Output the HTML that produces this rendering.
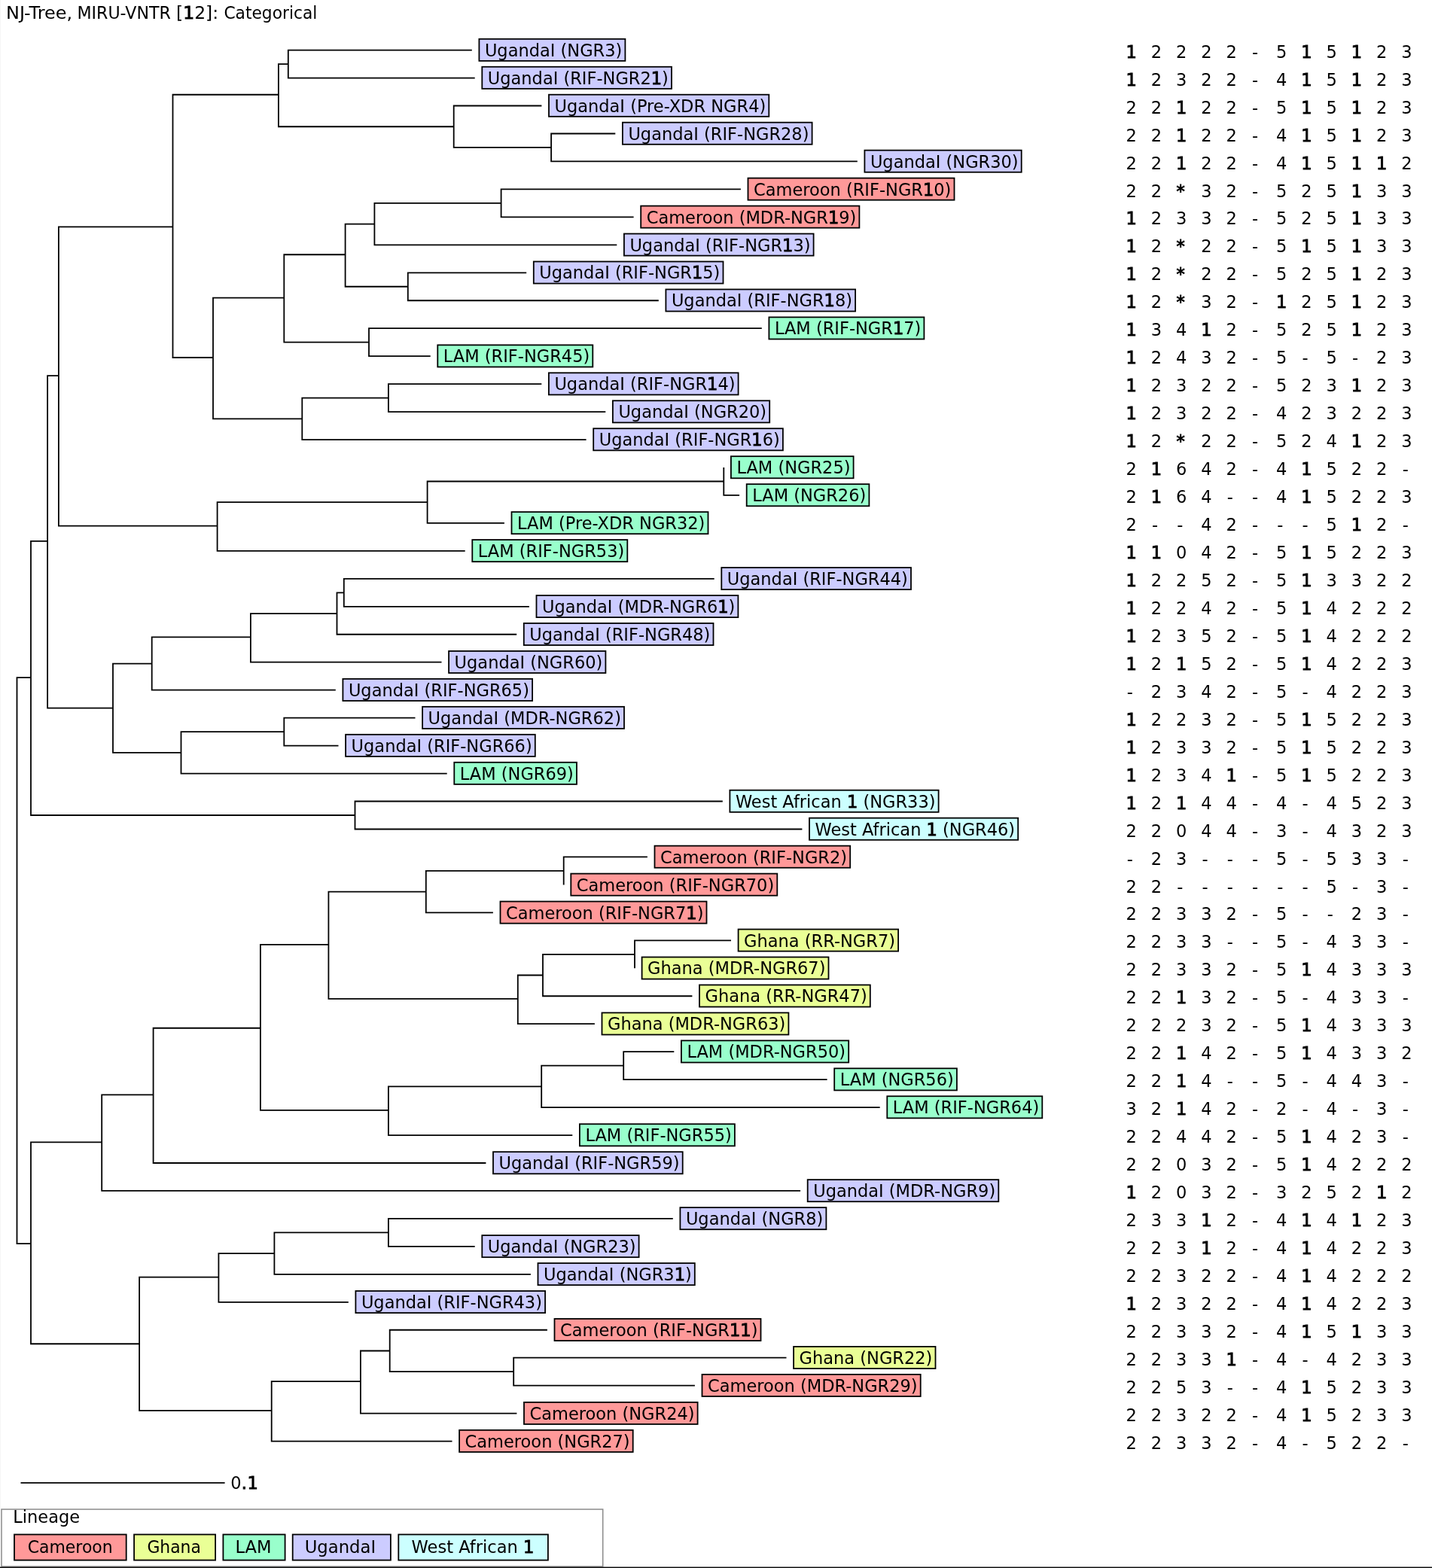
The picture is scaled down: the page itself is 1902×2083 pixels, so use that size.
<!DOCTYPE html><html><head><meta charset="utf-8"><title>NJ-Tree, MIRU-VNTR [12]: Categorical</title><style>
html,body{margin:0;padding:0;background:#fff;}svg{display:block}
text{font-family:"DejaVu Sans", "Liberation Sans", sans-serif;font-size:22.5px;fill:#000}
.b{stroke:#000;stroke-width:0.9px}
.t{fill:none;stroke:#000;stroke-width:1.8;stroke-linejoin:miter;stroke-linecap:butt}
.bx{stroke:#000;stroke-width:1.8}
</style></head><body>
<svg width="1902" height="2083" viewBox="0 0 1902 2083">
<rect x="0" y="0" width="1902" height="2083" fill="#fff"/>
<line x1="0.5" y1="0" x2="0.5" y2="2004" stroke="#f6f6f6" stroke-width="1"/>
<text x="8.0" y="24.8" textLength="88.0" lengthAdjust="spacingAndGlyphs">NJ-Tree,</text>
<text x="102.4" y="24.8" textLength="124.5" lengthAdjust="spacingAndGlyphs">MIRU-VNTR</text>
<text x="234.1" y="24.8" textLength="56.1" lengthAdjust="spacingAndGlyphs">[<tspan class="b">1</tspan>2]:</text>
<text x="297.4" y="24.8" textLength="124.0" lengthAdjust="spacingAndGlyphs">Categorical</text>
<path class="t" d="M626.8 66.60H382.8V103.56H630.7M817.3 177.48H732.1V214.44H1138.8M719.4 140.52H602.7V195.96H732.1M382.8 85.08H369.9V168.24H602.7M983.9 251.40H665.6V288.36H841.6M665.6 269.88H497.4V325.32H819.3M699.2 362.28H541.8V399.24H874.8M497.4 297.60H458.6V380.76H541.8M1011.8 436.20H490.0V473.16H571.7M458.6 338.26H377.3V454.68H490.0M719.3 510.12H515.9V547.08H804.3M515.9 528.60H401.3V584.04H778.6M377.3 395.54H283.0V556.32H401.3M369.9 125.74H229.5V475.01H283.0M961.3 621.00H961.3V657.96H982.1M961.3 639.48H567.6V694.92H669.9M567.6 667.20H288.6V731.88H617.7M229.5 301.30H77.9V698.62H288.6M948.7 768.84H456.8V805.80H702.9M456.8 787.32H447.5V842.76H686.2M447.5 815.04H332.9V879.72H586.5M332.9 846.46H201.7V916.68H445.8M551.5 953.64H377.3V990.60H449.5M377.3 972.12H240.5V1027.56H593.7M201.7 881.57H150.0V999.84H240.5M77.9 499.03H63.1V940.70H150.0M959.8 1064.52H471.5V1101.48H1065.4M63.1 718.94H41.0V1083.00H471.5M859.9 1138.44H748.7V1175.40H748.7M748.7 1156.92H565.8V1212.36H654.9M971.0 1249.32H843.0V1286.28H843.0M843.0 1267.80H721.0V1323.24H919.4M721.0 1295.52H687.8V1360.20H789.9M565.8 1184.64H436.4V1326.94H687.8M895.3 1397.16H828.2V1434.12H1098.6M828.2 1415.64H719.2V1471.08H1168.7M719.2 1443.36H515.9V1508.04H760.3M436.4 1254.86H345.9V1474.78H515.9M345.9 1365.74H203.6V1545.00H645.4M203.6 1454.45H135.2V1581.96H1063.1M893.8 1618.92H515.9V1655.88H630.7M515.9 1637.40H364.4V1692.84H704.9M364.4 1665.12H290.4V1729.80H462.8M1044.5 1803.72H682.2V1840.68H922.9M726.9 1766.76H517.7V1822.20H682.2M517.7 1794.48H478.9V1877.64H686.4M478.9 1835.14H360.7V1914.60H600.5M290.4 1696.54H185.1V1873.94H360.7M135.2 1517.28H41.0V1785.24H185.1M41.0 900.05H22.5V1652.18H41.0"/>
<rect class="bx" x="636.4" y="51.80" width="194.0" height="29.1" fill="#ccccff"/>
<text x="643.9" y="74.80">UgandaI (NGR3)</text>
<rect class="bx" x="640.3" y="88.76" width="251.7" height="29.1" fill="#ccccff"/>
<text x="647.8" y="111.76">UgandaI (RIF-NGR2<tspan class="b">1</tspan>)</text>
<rect class="bx" x="729.0" y="125.72" width="292.3" height="29.1" fill="#ccccff"/>
<text x="736.5" y="148.72">UgandaI (Pre-XDR NGR4)</text>
<rect class="bx" x="826.9" y="162.68" width="251.7" height="29.1" fill="#ccccff"/>
<text x="834.4" y="185.68">UgandaI (RIF-NGR28)</text>
<rect class="bx" x="1148.4" y="199.64" width="208.3" height="29.1" fill="#ccccff"/>
<text x="1155.9" y="222.64">UgandaI (NGR30)</text>
<rect class="bx" x="993.5" y="236.60" width="274.0" height="29.1" fill="#ff9999"/>
<text x="1001.0" y="259.60">Cameroon (RIF-NGR<tspan class="b">1</tspan>0)</text>
<rect class="bx" x="851.2" y="273.56" width="290.2" height="29.1" fill="#ff9999"/>
<text x="858.7" y="296.56">Cameroon (MDR-NGR<tspan class="b">1</tspan>9)</text>
<rect class="bx" x="828.9" y="310.52" width="251.7" height="29.1" fill="#ccccff"/>
<text x="836.4" y="333.52">UgandaI (RIF-NGR<tspan class="b">1</tspan>3)</text>
<rect class="bx" x="708.8" y="347.48" width="251.7" height="29.1" fill="#ccccff"/>
<text x="716.3" y="370.48">UgandaI (RIF-NGR<tspan class="b">1</tspan>5)</text>
<rect class="bx" x="884.4" y="384.44" width="251.7" height="29.1" fill="#ccccff"/>
<text x="891.9" y="407.44">UgandaI (RIF-NGR<tspan class="b">1</tspan>8)</text>
<rect class="bx" x="1021.4" y="421.40" width="206.0" height="29.1" fill="#99ffcc"/>
<text x="1028.9" y="444.40">LAM (RIF-NGR<tspan class="b">1</tspan>7)</text>
<rect class="bx" x="581.3" y="458.36" width="206.0" height="29.1" fill="#99ffcc"/>
<text x="588.8" y="481.36">LAM (RIF-NGR45)</text>
<rect class="bx" x="728.9" y="495.32" width="251.7" height="29.1" fill="#ccccff"/>
<text x="736.4" y="518.32">UgandaI (RIF-NGR<tspan class="b">1</tspan>4)</text>
<rect class="bx" x="813.9" y="532.28" width="208.3" height="29.1" fill="#ccccff"/>
<text x="821.4" y="555.28">UgandaI (NGR20)</text>
<rect class="bx" x="788.2" y="569.24" width="251.7" height="29.1" fill="#ccccff"/>
<text x="795.7" y="592.24">UgandaI (RIF-NGR<tspan class="b">1</tspan>6)</text>
<rect class="bx" x="970.9" y="606.20" width="162.7" height="29.1" fill="#99ffcc"/>
<text x="978.4" y="629.20">LAM (NGR25)</text>
<rect class="bx" x="991.7" y="643.16" width="162.7" height="29.1" fill="#99ffcc"/>
<text x="999.2" y="666.16">LAM (NGR26)</text>
<rect class="bx" x="679.5" y="680.12" width="261.0" height="29.1" fill="#99ffcc"/>
<text x="687.0" y="703.12">LAM (Pre-XDR NGR32)</text>
<rect class="bx" x="627.3" y="717.08" width="206.0" height="29.1" fill="#99ffcc"/>
<text x="634.8" y="740.08">LAM (RIF-NGR53)</text>
<rect class="bx" x="958.3" y="754.04" width="251.7" height="29.1" fill="#ccccff"/>
<text x="965.8" y="777.04">UgandaI (RIF-NGR44)</text>
<rect class="bx" x="712.5" y="791.00" width="267.9" height="29.1" fill="#ccccff"/>
<text x="720.0" y="814.00">UgandaI (MDR-NGR6<tspan class="b">1</tspan>)</text>
<rect class="bx" x="695.8" y="827.96" width="251.7" height="29.1" fill="#ccccff"/>
<text x="703.3" y="850.96">UgandaI (RIF-NGR48)</text>
<rect class="bx" x="596.1" y="864.92" width="208.3" height="29.1" fill="#ccccff"/>
<text x="603.6" y="887.92">UgandaI (NGR60)</text>
<rect class="bx" x="455.4" y="901.88" width="251.7" height="29.1" fill="#ccccff"/>
<text x="462.9" y="924.88">UgandaI (RIF-NGR65)</text>
<rect class="bx" x="561.1" y="938.84" width="267.9" height="29.1" fill="#ccccff"/>
<text x="568.6" y="961.84">UgandaI (MDR-NGR62)</text>
<rect class="bx" x="459.1" y="975.80" width="251.7" height="29.1" fill="#ccccff"/>
<text x="466.6" y="998.80">UgandaI (RIF-NGR66)</text>
<rect class="bx" x="603.3" y="1012.76" width="162.7" height="29.1" fill="#99ffcc"/>
<text x="610.8" y="1035.76">LAM (NGR69)</text>
<rect class="bx" x="969.4" y="1049.72" width="277.2" height="29.1" fill="#ccffff"/>
<text x="976.9" y="1072.72">West African <tspan class="b">1</tspan> (NGR33)</text>
<rect class="bx" x="1075.0" y="1086.68" width="277.2" height="29.1" fill="#ccffff"/>
<text x="1082.5" y="1109.68">West African <tspan class="b">1</tspan> (NGR46)</text>
<rect class="bx" x="869.5" y="1123.64" width="259.7" height="29.1" fill="#ff9999"/>
<text x="877.0" y="1146.64">Cameroon (RIF-NGR2)</text>
<rect class="bx" x="758.3" y="1160.60" width="274.0" height="29.1" fill="#ff9999"/>
<text x="765.8" y="1183.60">Cameroon (RIF-NGR70)</text>
<rect class="bx" x="664.5" y="1197.56" width="274.0" height="29.1" fill="#ff9999"/>
<text x="672.0" y="1220.56">Cameroon (RIF-NGR7<tspan class="b">1</tspan>)</text>
<rect class="bx" x="980.6" y="1234.52" width="212.5" height="29.1" fill="#eaff96"/>
<text x="988.1" y="1257.52">Ghana (RR-NGR7)</text>
<rect class="bx" x="852.6" y="1271.48" width="247.9" height="29.1" fill="#eaff96"/>
<text x="860.1" y="1294.48">Ghana (MDR-NGR67)</text>
<rect class="bx" x="929.0" y="1308.44" width="226.8" height="29.1" fill="#eaff96"/>
<text x="936.5" y="1331.44">Ghana (RR-NGR47)</text>
<rect class="bx" x="799.5" y="1345.40" width="247.9" height="29.1" fill="#eaff96"/>
<text x="807.0" y="1368.40">Ghana (MDR-NGR63)</text>
<rect class="bx" x="904.9" y="1382.36" width="222.3" height="29.1" fill="#99ffcc"/>
<text x="912.4" y="1405.36">LAM (MDR-NGR50)</text>
<rect class="bx" x="1108.2" y="1419.32" width="162.7" height="29.1" fill="#99ffcc"/>
<text x="1115.7" y="1442.32">LAM (NGR56)</text>
<rect class="bx" x="1178.3" y="1456.28" width="206.0" height="29.1" fill="#99ffcc"/>
<text x="1185.8" y="1479.28">LAM (RIF-NGR64)</text>
<rect class="bx" x="769.9" y="1493.24" width="206.0" height="29.1" fill="#99ffcc"/>
<text x="777.4" y="1516.24">LAM (RIF-NGR55)</text>
<rect class="bx" x="655.0" y="1530.20" width="251.7" height="29.1" fill="#ccccff"/>
<text x="662.5" y="1553.20">UgandaI (RIF-NGR59)</text>
<rect class="bx" x="1072.7" y="1567.16" width="253.6" height="29.1" fill="#ccccff"/>
<text x="1080.2" y="1590.16">UgandaI (MDR-NGR9)</text>
<rect class="bx" x="903.4" y="1604.12" width="194.0" height="29.1" fill="#ccccff"/>
<text x="910.9" y="1627.12">UgandaI (NGR8)</text>
<rect class="bx" x="640.3" y="1641.08" width="208.3" height="29.1" fill="#ccccff"/>
<text x="647.8" y="1664.08">UgandaI (NGR23)</text>
<rect class="bx" x="714.5" y="1678.04" width="208.3" height="29.1" fill="#ccccff"/>
<text x="722.0" y="1701.04">UgandaI (NGR3<tspan class="b">1</tspan>)</text>
<rect class="bx" x="472.4" y="1715.00" width="251.7" height="29.1" fill="#ccccff"/>
<text x="479.9" y="1738.00">UgandaI (RIF-NGR43)</text>
<rect class="bx" x="736.5" y="1751.96" width="274.0" height="29.1" fill="#ff9999"/>
<text x="744.0" y="1774.96">Cameroon (RIF-NGR<tspan class="b">1</tspan><tspan class="b">1</tspan>)</text>
<rect class="bx" x="1054.1" y="1788.92" width="188.4" height="29.1" fill="#eaff96"/>
<text x="1061.6" y="1811.92">Ghana (NGR22)</text>
<rect class="bx" x="932.5" y="1825.88" width="290.2" height="29.1" fill="#ff9999"/>
<text x="940.0" y="1848.88">Cameroon (MDR-NGR29)</text>
<rect class="bx" x="696.0" y="1862.84" width="230.6" height="29.1" fill="#ff9999"/>
<text x="703.5" y="1885.84">Cameroon (NGR24)</text>
<rect class="bx" x="610.1" y="1899.80" width="230.6" height="29.1" fill="#ff9999"/>
<text x="617.6" y="1922.80">Cameroon (NGR27)</text>
<text y="76.70" text-anchor="middle"><tspan x="1502.6" class="b">1</tspan><tspan x="1535.9">2</tspan><tspan x="1569.1">2</tspan><tspan x="1602.4">2</tspan><tspan x="1635.6">2</tspan><tspan x="1667.1">-</tspan><tspan x="1702.2">5</tspan><tspan x="1735.4" class="b">1</tspan><tspan x="1768.7">5</tspan><tspan x="1801.9" class="b">1</tspan><tspan x="1835.2">2</tspan><tspan x="1868.5">3</tspan></text>
<text y="113.66" text-anchor="middle"><tspan x="1502.6" class="b">1</tspan><tspan x="1535.9">2</tspan><tspan x="1569.1">3</tspan><tspan x="1602.4">2</tspan><tspan x="1635.6">2</tspan><tspan x="1667.1">-</tspan><tspan x="1702.2">4</tspan><tspan x="1735.4" class="b">1</tspan><tspan x="1768.7">5</tspan><tspan x="1801.9" class="b">1</tspan><tspan x="1835.2">2</tspan><tspan x="1868.5">3</tspan></text>
<text y="150.62" text-anchor="middle"><tspan x="1502.6">2</tspan><tspan x="1535.9">2</tspan><tspan x="1569.1" class="b">1</tspan><tspan x="1602.4">2</tspan><tspan x="1635.6">2</tspan><tspan x="1667.1">-</tspan><tspan x="1702.2">5</tspan><tspan x="1735.4" class="b">1</tspan><tspan x="1768.7">5</tspan><tspan x="1801.9" class="b">1</tspan><tspan x="1835.2">2</tspan><tspan x="1868.5">3</tspan></text>
<text y="187.58" text-anchor="middle"><tspan x="1502.6">2</tspan><tspan x="1535.9">2</tspan><tspan x="1569.1" class="b">1</tspan><tspan x="1602.4">2</tspan><tspan x="1635.6">2</tspan><tspan x="1667.1">-</tspan><tspan x="1702.2">4</tspan><tspan x="1735.4" class="b">1</tspan><tspan x="1768.7">5</tspan><tspan x="1801.9" class="b">1</tspan><tspan x="1835.2">2</tspan><tspan x="1868.5">3</tspan></text>
<text y="224.54" text-anchor="middle"><tspan x="1502.6">2</tspan><tspan x="1535.9">2</tspan><tspan x="1569.1" class="b">1</tspan><tspan x="1602.4">2</tspan><tspan x="1635.6">2</tspan><tspan x="1667.1">-</tspan><tspan x="1702.2">4</tspan><tspan x="1735.4" class="b">1</tspan><tspan x="1768.7">5</tspan><tspan x="1801.9" class="b">1</tspan><tspan x="1835.2" class="b">1</tspan><tspan x="1868.5">2</tspan></text>
<text y="261.50" text-anchor="middle"><tspan x="1502.6">2</tspan><tspan x="1535.9">2</tspan><tspan x="1568.2" class="b">*</tspan><tspan x="1602.4">3</tspan><tspan x="1635.6">2</tspan><tspan x="1667.1">-</tspan><tspan x="1702.2">5</tspan><tspan x="1735.4">2</tspan><tspan x="1768.7">5</tspan><tspan x="1801.9" class="b">1</tspan><tspan x="1835.2">3</tspan><tspan x="1868.5">3</tspan></text>
<text y="298.46" text-anchor="middle"><tspan x="1502.6" class="b">1</tspan><tspan x="1535.9">2</tspan><tspan x="1569.1">3</tspan><tspan x="1602.4">3</tspan><tspan x="1635.6">2</tspan><tspan x="1667.1">-</tspan><tspan x="1702.2">5</tspan><tspan x="1735.4">2</tspan><tspan x="1768.7">5</tspan><tspan x="1801.9" class="b">1</tspan><tspan x="1835.2">3</tspan><tspan x="1868.5">3</tspan></text>
<text y="335.42" text-anchor="middle"><tspan x="1502.6" class="b">1</tspan><tspan x="1535.9">2</tspan><tspan x="1568.2" class="b">*</tspan><tspan x="1602.4">2</tspan><tspan x="1635.6">2</tspan><tspan x="1667.1">-</tspan><tspan x="1702.2">5</tspan><tspan x="1735.4" class="b">1</tspan><tspan x="1768.7">5</tspan><tspan x="1801.9" class="b">1</tspan><tspan x="1835.2">3</tspan><tspan x="1868.5">3</tspan></text>
<text y="372.38" text-anchor="middle"><tspan x="1502.6" class="b">1</tspan><tspan x="1535.9">2</tspan><tspan x="1568.2" class="b">*</tspan><tspan x="1602.4">2</tspan><tspan x="1635.6">2</tspan><tspan x="1667.1">-</tspan><tspan x="1702.2">5</tspan><tspan x="1735.4">2</tspan><tspan x="1768.7">5</tspan><tspan x="1801.9" class="b">1</tspan><tspan x="1835.2">2</tspan><tspan x="1868.5">3</tspan></text>
<text y="409.34" text-anchor="middle"><tspan x="1502.6" class="b">1</tspan><tspan x="1535.9">2</tspan><tspan x="1568.2" class="b">*</tspan><tspan x="1602.4">3</tspan><tspan x="1635.6">2</tspan><tspan x="1667.1">-</tspan><tspan x="1702.2" class="b">1</tspan><tspan x="1735.4">2</tspan><tspan x="1768.7">5</tspan><tspan x="1801.9" class="b">1</tspan><tspan x="1835.2">2</tspan><tspan x="1868.5">3</tspan></text>
<text y="446.30" text-anchor="middle"><tspan x="1502.6" class="b">1</tspan><tspan x="1535.9">3</tspan><tspan x="1569.1">4</tspan><tspan x="1602.4" class="b">1</tspan><tspan x="1635.6">2</tspan><tspan x="1667.1">-</tspan><tspan x="1702.2">5</tspan><tspan x="1735.4">2</tspan><tspan x="1768.7">5</tspan><tspan x="1801.9" class="b">1</tspan><tspan x="1835.2">2</tspan><tspan x="1868.5">3</tspan></text>
<text y="483.26" text-anchor="middle"><tspan x="1502.6" class="b">1</tspan><tspan x="1535.9">2</tspan><tspan x="1569.1">4</tspan><tspan x="1602.4">3</tspan><tspan x="1635.6">2</tspan><tspan x="1667.1">-</tspan><tspan x="1702.2">5</tspan><tspan x="1733.6">-</tspan><tspan x="1768.7">5</tspan><tspan x="1800.1">-</tspan><tspan x="1835.2">2</tspan><tspan x="1868.5">3</tspan></text>
<text y="520.22" text-anchor="middle"><tspan x="1502.6" class="b">1</tspan><tspan x="1535.9">2</tspan><tspan x="1569.1">3</tspan><tspan x="1602.4">2</tspan><tspan x="1635.6">2</tspan><tspan x="1667.1">-</tspan><tspan x="1702.2">5</tspan><tspan x="1735.4">2</tspan><tspan x="1768.7">3</tspan><tspan x="1801.9" class="b">1</tspan><tspan x="1835.2">2</tspan><tspan x="1868.5">3</tspan></text>
<text y="557.18" text-anchor="middle"><tspan x="1502.6" class="b">1</tspan><tspan x="1535.9">2</tspan><tspan x="1569.1">3</tspan><tspan x="1602.4">2</tspan><tspan x="1635.6">2</tspan><tspan x="1667.1">-</tspan><tspan x="1702.2">4</tspan><tspan x="1735.4">2</tspan><tspan x="1768.7">3</tspan><tspan x="1801.9">2</tspan><tspan x="1835.2">2</tspan><tspan x="1868.5">3</tspan></text>
<text y="594.14" text-anchor="middle"><tspan x="1502.6" class="b">1</tspan><tspan x="1535.9">2</tspan><tspan x="1568.2" class="b">*</tspan><tspan x="1602.4">2</tspan><tspan x="1635.6">2</tspan><tspan x="1667.1">-</tspan><tspan x="1702.2">5</tspan><tspan x="1735.4">2</tspan><tspan x="1768.7">4</tspan><tspan x="1801.9" class="b">1</tspan><tspan x="1835.2">2</tspan><tspan x="1868.5">3</tspan></text>
<text y="631.10" text-anchor="middle"><tspan x="1502.6">2</tspan><tspan x="1535.9" class="b">1</tspan><tspan x="1569.1">6</tspan><tspan x="1602.4">4</tspan><tspan x="1635.6">2</tspan><tspan x="1667.1">-</tspan><tspan x="1702.2">4</tspan><tspan x="1735.4" class="b">1</tspan><tspan x="1768.7">5</tspan><tspan x="1801.9">2</tspan><tspan x="1835.2">2</tspan><tspan x="1866.7">-</tspan></text>
<text y="668.06" text-anchor="middle"><tspan x="1502.6">2</tspan><tspan x="1535.9" class="b">1</tspan><tspan x="1569.1">6</tspan><tspan x="1602.4">4</tspan><tspan x="1633.8">-</tspan><tspan x="1667.1">-</tspan><tspan x="1702.2">4</tspan><tspan x="1735.4" class="b">1</tspan><tspan x="1768.7">5</tspan><tspan x="1801.9">2</tspan><tspan x="1835.2">2</tspan><tspan x="1868.5">3</tspan></text>
<text y="705.02" text-anchor="middle"><tspan x="1502.6">2</tspan><tspan x="1534.1">-</tspan><tspan x="1567.3">-</tspan><tspan x="1602.4">4</tspan><tspan x="1635.6">2</tspan><tspan x="1667.1">-</tspan><tspan x="1700.4">-</tspan><tspan x="1733.6">-</tspan><tspan x="1768.7">5</tspan><tspan x="1801.9" class="b">1</tspan><tspan x="1835.2">2</tspan><tspan x="1866.7">-</tspan></text>
<text y="741.98" text-anchor="middle"><tspan x="1502.6" class="b">1</tspan><tspan x="1535.9" class="b">1</tspan><tspan x="1569.1">0</tspan><tspan x="1602.4">4</tspan><tspan x="1635.6">2</tspan><tspan x="1667.1">-</tspan><tspan x="1702.2">5</tspan><tspan x="1735.4" class="b">1</tspan><tspan x="1768.7">5</tspan><tspan x="1801.9">2</tspan><tspan x="1835.2">2</tspan><tspan x="1868.5">3</tspan></text>
<text y="778.94" text-anchor="middle"><tspan x="1502.6" class="b">1</tspan><tspan x="1535.9">2</tspan><tspan x="1569.1">2</tspan><tspan x="1602.4">5</tspan><tspan x="1635.6">2</tspan><tspan x="1667.1">-</tspan><tspan x="1702.2">5</tspan><tspan x="1735.4" class="b">1</tspan><tspan x="1768.7">3</tspan><tspan x="1801.9">3</tspan><tspan x="1835.2">2</tspan><tspan x="1868.5">2</tspan></text>
<text y="815.90" text-anchor="middle"><tspan x="1502.6" class="b">1</tspan><tspan x="1535.9">2</tspan><tspan x="1569.1">2</tspan><tspan x="1602.4">4</tspan><tspan x="1635.6">2</tspan><tspan x="1667.1">-</tspan><tspan x="1702.2">5</tspan><tspan x="1735.4" class="b">1</tspan><tspan x="1768.7">4</tspan><tspan x="1801.9">2</tspan><tspan x="1835.2">2</tspan><tspan x="1868.5">2</tspan></text>
<text y="852.86" text-anchor="middle"><tspan x="1502.6" class="b">1</tspan><tspan x="1535.9">2</tspan><tspan x="1569.1">3</tspan><tspan x="1602.4">5</tspan><tspan x="1635.6">2</tspan><tspan x="1667.1">-</tspan><tspan x="1702.2">5</tspan><tspan x="1735.4" class="b">1</tspan><tspan x="1768.7">4</tspan><tspan x="1801.9">2</tspan><tspan x="1835.2">2</tspan><tspan x="1868.5">2</tspan></text>
<text y="889.82" text-anchor="middle"><tspan x="1502.6" class="b">1</tspan><tspan x="1535.9">2</tspan><tspan x="1569.1" class="b">1</tspan><tspan x="1602.4">5</tspan><tspan x="1635.6">2</tspan><tspan x="1667.1">-</tspan><tspan x="1702.2">5</tspan><tspan x="1735.4" class="b">1</tspan><tspan x="1768.7">4</tspan><tspan x="1801.9">2</tspan><tspan x="1835.2">2</tspan><tspan x="1868.5">3</tspan></text>
<text y="926.78" text-anchor="middle"><tspan x="1500.8">-</tspan><tspan x="1535.9">2</tspan><tspan x="1569.1">3</tspan><tspan x="1602.4">4</tspan><tspan x="1635.6">2</tspan><tspan x="1667.1">-</tspan><tspan x="1702.2">5</tspan><tspan x="1733.6">-</tspan><tspan x="1768.7">4</tspan><tspan x="1801.9">2</tspan><tspan x="1835.2">2</tspan><tspan x="1868.5">3</tspan></text>
<text y="963.74" text-anchor="middle"><tspan x="1502.6" class="b">1</tspan><tspan x="1535.9">2</tspan><tspan x="1569.1">2</tspan><tspan x="1602.4">3</tspan><tspan x="1635.6">2</tspan><tspan x="1667.1">-</tspan><tspan x="1702.2">5</tspan><tspan x="1735.4" class="b">1</tspan><tspan x="1768.7">5</tspan><tspan x="1801.9">2</tspan><tspan x="1835.2">2</tspan><tspan x="1868.5">3</tspan></text>
<text y="1000.70" text-anchor="middle"><tspan x="1502.6" class="b">1</tspan><tspan x="1535.9">2</tspan><tspan x="1569.1">3</tspan><tspan x="1602.4">3</tspan><tspan x="1635.6">2</tspan><tspan x="1667.1">-</tspan><tspan x="1702.2">5</tspan><tspan x="1735.4" class="b">1</tspan><tspan x="1768.7">5</tspan><tspan x="1801.9">2</tspan><tspan x="1835.2">2</tspan><tspan x="1868.5">3</tspan></text>
<text y="1037.66" text-anchor="middle"><tspan x="1502.6" class="b">1</tspan><tspan x="1535.9">2</tspan><tspan x="1569.1">3</tspan><tspan x="1602.4">4</tspan><tspan x="1635.6" class="b">1</tspan><tspan x="1667.1">-</tspan><tspan x="1702.2">5</tspan><tspan x="1735.4" class="b">1</tspan><tspan x="1768.7">5</tspan><tspan x="1801.9">2</tspan><tspan x="1835.2">2</tspan><tspan x="1868.5">3</tspan></text>
<text y="1074.62" text-anchor="middle"><tspan x="1502.6" class="b">1</tspan><tspan x="1535.9">2</tspan><tspan x="1569.1" class="b">1</tspan><tspan x="1602.4">4</tspan><tspan x="1635.6">4</tspan><tspan x="1667.1">-</tspan><tspan x="1702.2">4</tspan><tspan x="1733.6">-</tspan><tspan x="1768.7">4</tspan><tspan x="1801.9">5</tspan><tspan x="1835.2">2</tspan><tspan x="1868.5">3</tspan></text>
<text y="1111.58" text-anchor="middle"><tspan x="1502.6">2</tspan><tspan x="1535.9">2</tspan><tspan x="1569.1">0</tspan><tspan x="1602.4">4</tspan><tspan x="1635.6">4</tspan><tspan x="1667.1">-</tspan><tspan x="1702.2">3</tspan><tspan x="1733.6">-</tspan><tspan x="1768.7">4</tspan><tspan x="1801.9">3</tspan><tspan x="1835.2">2</tspan><tspan x="1868.5">3</tspan></text>
<text y="1148.54" text-anchor="middle"><tspan x="1500.8">-</tspan><tspan x="1535.9">2</tspan><tspan x="1569.1">3</tspan><tspan x="1600.6">-</tspan><tspan x="1633.8">-</tspan><tspan x="1667.1">-</tspan><tspan x="1702.2">5</tspan><tspan x="1733.6">-</tspan><tspan x="1768.7">5</tspan><tspan x="1801.9">3</tspan><tspan x="1835.2">3</tspan><tspan x="1866.7">-</tspan></text>
<text y="1185.50" text-anchor="middle"><tspan x="1502.6">2</tspan><tspan x="1535.9">2</tspan><tspan x="1567.3">-</tspan><tspan x="1600.6">-</tspan><tspan x="1633.8">-</tspan><tspan x="1667.1">-</tspan><tspan x="1700.4">-</tspan><tspan x="1733.6">-</tspan><tspan x="1768.7">5</tspan><tspan x="1800.1">-</tspan><tspan x="1835.2">3</tspan><tspan x="1866.7">-</tspan></text>
<text y="1222.46" text-anchor="middle"><tspan x="1502.6">2</tspan><tspan x="1535.9">2</tspan><tspan x="1569.1">3</tspan><tspan x="1602.4">3</tspan><tspan x="1635.6">2</tspan><tspan x="1667.1">-</tspan><tspan x="1702.2">5</tspan><tspan x="1733.6">-</tspan><tspan x="1766.9">-</tspan><tspan x="1801.9">2</tspan><tspan x="1835.2">3</tspan><tspan x="1866.7">-</tspan></text>
<text y="1259.42" text-anchor="middle"><tspan x="1502.6">2</tspan><tspan x="1535.9">2</tspan><tspan x="1569.1">3</tspan><tspan x="1602.4">3</tspan><tspan x="1633.8">-</tspan><tspan x="1667.1">-</tspan><tspan x="1702.2">5</tspan><tspan x="1733.6">-</tspan><tspan x="1768.7">4</tspan><tspan x="1801.9">3</tspan><tspan x="1835.2">3</tspan><tspan x="1866.7">-</tspan></text>
<text y="1296.38" text-anchor="middle"><tspan x="1502.6">2</tspan><tspan x="1535.9">2</tspan><tspan x="1569.1">3</tspan><tspan x="1602.4">3</tspan><tspan x="1635.6">2</tspan><tspan x="1667.1">-</tspan><tspan x="1702.2">5</tspan><tspan x="1735.4" class="b">1</tspan><tspan x="1768.7">4</tspan><tspan x="1801.9">3</tspan><tspan x="1835.2">3</tspan><tspan x="1868.5">3</tspan></text>
<text y="1333.34" text-anchor="middle"><tspan x="1502.6">2</tspan><tspan x="1535.9">2</tspan><tspan x="1569.1" class="b">1</tspan><tspan x="1602.4">3</tspan><tspan x="1635.6">2</tspan><tspan x="1667.1">-</tspan><tspan x="1702.2">5</tspan><tspan x="1733.6">-</tspan><tspan x="1768.7">4</tspan><tspan x="1801.9">3</tspan><tspan x="1835.2">3</tspan><tspan x="1866.7">-</tspan></text>
<text y="1370.30" text-anchor="middle"><tspan x="1502.6">2</tspan><tspan x="1535.9">2</tspan><tspan x="1569.1">2</tspan><tspan x="1602.4">3</tspan><tspan x="1635.6">2</tspan><tspan x="1667.1">-</tspan><tspan x="1702.2">5</tspan><tspan x="1735.4" class="b">1</tspan><tspan x="1768.7">4</tspan><tspan x="1801.9">3</tspan><tspan x="1835.2">3</tspan><tspan x="1868.5">3</tspan></text>
<text y="1407.26" text-anchor="middle"><tspan x="1502.6">2</tspan><tspan x="1535.9">2</tspan><tspan x="1569.1" class="b">1</tspan><tspan x="1602.4">4</tspan><tspan x="1635.6">2</tspan><tspan x="1667.1">-</tspan><tspan x="1702.2">5</tspan><tspan x="1735.4" class="b">1</tspan><tspan x="1768.7">4</tspan><tspan x="1801.9">3</tspan><tspan x="1835.2">3</tspan><tspan x="1868.5">2</tspan></text>
<text y="1444.22" text-anchor="middle"><tspan x="1502.6">2</tspan><tspan x="1535.9">2</tspan><tspan x="1569.1" class="b">1</tspan><tspan x="1602.4">4</tspan><tspan x="1633.8">-</tspan><tspan x="1667.1">-</tspan><tspan x="1702.2">5</tspan><tspan x="1733.6">-</tspan><tspan x="1768.7">4</tspan><tspan x="1801.9">4</tspan><tspan x="1835.2">3</tspan><tspan x="1866.7">-</tspan></text>
<text y="1481.18" text-anchor="middle"><tspan x="1502.6">3</tspan><tspan x="1535.9">2</tspan><tspan x="1569.1" class="b">1</tspan><tspan x="1602.4">4</tspan><tspan x="1635.6">2</tspan><tspan x="1667.1">-</tspan><tspan x="1702.2">2</tspan><tspan x="1733.6">-</tspan><tspan x="1768.7">4</tspan><tspan x="1800.1">-</tspan><tspan x="1835.2">3</tspan><tspan x="1866.7">-</tspan></text>
<text y="1518.14" text-anchor="middle"><tspan x="1502.6">2</tspan><tspan x="1535.9">2</tspan><tspan x="1569.1">4</tspan><tspan x="1602.4">4</tspan><tspan x="1635.6">2</tspan><tspan x="1667.1">-</tspan><tspan x="1702.2">5</tspan><tspan x="1735.4" class="b">1</tspan><tspan x="1768.7">4</tspan><tspan x="1801.9">2</tspan><tspan x="1835.2">3</tspan><tspan x="1866.7">-</tspan></text>
<text y="1555.10" text-anchor="middle"><tspan x="1502.6">2</tspan><tspan x="1535.9">2</tspan><tspan x="1569.1">0</tspan><tspan x="1602.4">3</tspan><tspan x="1635.6">2</tspan><tspan x="1667.1">-</tspan><tspan x="1702.2">5</tspan><tspan x="1735.4" class="b">1</tspan><tspan x="1768.7">4</tspan><tspan x="1801.9">2</tspan><tspan x="1835.2">2</tspan><tspan x="1868.5">2</tspan></text>
<text y="1592.06" text-anchor="middle"><tspan x="1502.6" class="b">1</tspan><tspan x="1535.9">2</tspan><tspan x="1569.1">0</tspan><tspan x="1602.4">3</tspan><tspan x="1635.6">2</tspan><tspan x="1667.1">-</tspan><tspan x="1702.2">3</tspan><tspan x="1735.4">2</tspan><tspan x="1768.7">5</tspan><tspan x="1801.9">2</tspan><tspan x="1835.2" class="b">1</tspan><tspan x="1868.5">2</tspan></text>
<text y="1629.02" text-anchor="middle"><tspan x="1502.6">2</tspan><tspan x="1535.9">3</tspan><tspan x="1569.1">3</tspan><tspan x="1602.4" class="b">1</tspan><tspan x="1635.6">2</tspan><tspan x="1667.1">-</tspan><tspan x="1702.2">4</tspan><tspan x="1735.4" class="b">1</tspan><tspan x="1768.7">4</tspan><tspan x="1801.9" class="b">1</tspan><tspan x="1835.2">2</tspan><tspan x="1868.5">3</tspan></text>
<text y="1665.98" text-anchor="middle"><tspan x="1502.6">2</tspan><tspan x="1535.9">2</tspan><tspan x="1569.1">3</tspan><tspan x="1602.4" class="b">1</tspan><tspan x="1635.6">2</tspan><tspan x="1667.1">-</tspan><tspan x="1702.2">4</tspan><tspan x="1735.4" class="b">1</tspan><tspan x="1768.7">4</tspan><tspan x="1801.9">2</tspan><tspan x="1835.2">2</tspan><tspan x="1868.5">3</tspan></text>
<text y="1702.94" text-anchor="middle"><tspan x="1502.6">2</tspan><tspan x="1535.9">2</tspan><tspan x="1569.1">3</tspan><tspan x="1602.4">2</tspan><tspan x="1635.6">2</tspan><tspan x="1667.1">-</tspan><tspan x="1702.2">4</tspan><tspan x="1735.4" class="b">1</tspan><tspan x="1768.7">4</tspan><tspan x="1801.9">2</tspan><tspan x="1835.2">2</tspan><tspan x="1868.5">2</tspan></text>
<text y="1739.90" text-anchor="middle"><tspan x="1502.6" class="b">1</tspan><tspan x="1535.9">2</tspan><tspan x="1569.1">3</tspan><tspan x="1602.4">2</tspan><tspan x="1635.6">2</tspan><tspan x="1667.1">-</tspan><tspan x="1702.2">4</tspan><tspan x="1735.4" class="b">1</tspan><tspan x="1768.7">4</tspan><tspan x="1801.9">2</tspan><tspan x="1835.2">2</tspan><tspan x="1868.5">3</tspan></text>
<text y="1776.86" text-anchor="middle"><tspan x="1502.6">2</tspan><tspan x="1535.9">2</tspan><tspan x="1569.1">3</tspan><tspan x="1602.4">3</tspan><tspan x="1635.6">2</tspan><tspan x="1667.1">-</tspan><tspan x="1702.2">4</tspan><tspan x="1735.4" class="b">1</tspan><tspan x="1768.7">5</tspan><tspan x="1801.9" class="b">1</tspan><tspan x="1835.2">3</tspan><tspan x="1868.5">3</tspan></text>
<text y="1813.82" text-anchor="middle"><tspan x="1502.6">2</tspan><tspan x="1535.9">2</tspan><tspan x="1569.1">3</tspan><tspan x="1602.4">3</tspan><tspan x="1635.6" class="b">1</tspan><tspan x="1667.1">-</tspan><tspan x="1702.2">4</tspan><tspan x="1733.6">-</tspan><tspan x="1768.7">4</tspan><tspan x="1801.9">2</tspan><tspan x="1835.2">3</tspan><tspan x="1868.5">3</tspan></text>
<text y="1850.78" text-anchor="middle"><tspan x="1502.6">2</tspan><tspan x="1535.9">2</tspan><tspan x="1569.1">5</tspan><tspan x="1602.4">3</tspan><tspan x="1633.8">-</tspan><tspan x="1667.1">-</tspan><tspan x="1702.2">4</tspan><tspan x="1735.4" class="b">1</tspan><tspan x="1768.7">5</tspan><tspan x="1801.9">2</tspan><tspan x="1835.2">3</tspan><tspan x="1868.5">3</tspan></text>
<text y="1887.74" text-anchor="middle"><tspan x="1502.6">2</tspan><tspan x="1535.9">2</tspan><tspan x="1569.1">3</tspan><tspan x="1602.4">2</tspan><tspan x="1635.6">2</tspan><tspan x="1667.1">-</tspan><tspan x="1702.2">4</tspan><tspan x="1735.4" class="b">1</tspan><tspan x="1768.7">5</tspan><tspan x="1801.9">2</tspan><tspan x="1835.2">3</tspan><tspan x="1868.5">3</tspan></text>
<text y="1924.70" text-anchor="middle"><tspan x="1502.6">2</tspan><tspan x="1535.9">2</tspan><tspan x="1569.1">3</tspan><tspan x="1602.4">3</tspan><tspan x="1635.6">2</tspan><tspan x="1667.1">-</tspan><tspan x="1702.2">4</tspan><tspan x="1733.6">-</tspan><tspan x="1768.7">5</tspan><tspan x="1801.9">2</tspan><tspan x="1835.2">2</tspan><tspan x="1866.7">-</tspan></text>
<line x1="27.5" y1="1969.8" x2="298.6" y2="1969.8" stroke="#000" stroke-width="1.8"/>
<text x="306.3" y="1978">0<tspan class="b">.</tspan><tspan class="b" dx="0.6">1</tspan></text>
<rect x="2" y="2005" width="798.7" height="76" fill="#fff" stroke="#8a8a8a" stroke-width="1.5"/>
<text x="17.3" y="2022.7">Lineage</text>
<rect class="bx" x="19.0" y="2038.5" width="148.7" height="34.1" fill="#ff9999"/>
<text x="36.7" y="2062.6" textLength="113.0" lengthAdjust="spacingAndGlyphs">Cameroon</text>
<rect class="bx" x="178.1" y="2038.5" width="108.0" height="34.1" fill="#eaff96"/>
<text x="195.4" y="2062.6" textLength="71.5" lengthAdjust="spacingAndGlyphs">Ghana</text>
<rect class="bx" x="296.4" y="2038.5" width="82.2" height="34.1" fill="#99ffcc"/>
<text x="312.4" y="2062.6" textLength="48.1" lengthAdjust="spacingAndGlyphs">LAM</text>
<rect class="bx" x="388.7" y="2038.5" width="130.2" height="34.1" fill="#ccccff"/>
<text x="404.7" y="2062.6" textLength="94.5" lengthAdjust="spacingAndGlyphs">UgandaI</text>
<rect class="bx" x="529.3" y="2038.5" width="198.6" height="34.1" fill="#ccffff"/>
<text x="546.5" y="2062.6" textLength="162.9" lengthAdjust="spacingAndGlyphs">West African <tspan class="b">1</tspan></text>
<line x1="0" y1="2082.3" x2="1902" y2="2082.3" stroke="#111" stroke-width="1.5"/>
</svg></body></html>
